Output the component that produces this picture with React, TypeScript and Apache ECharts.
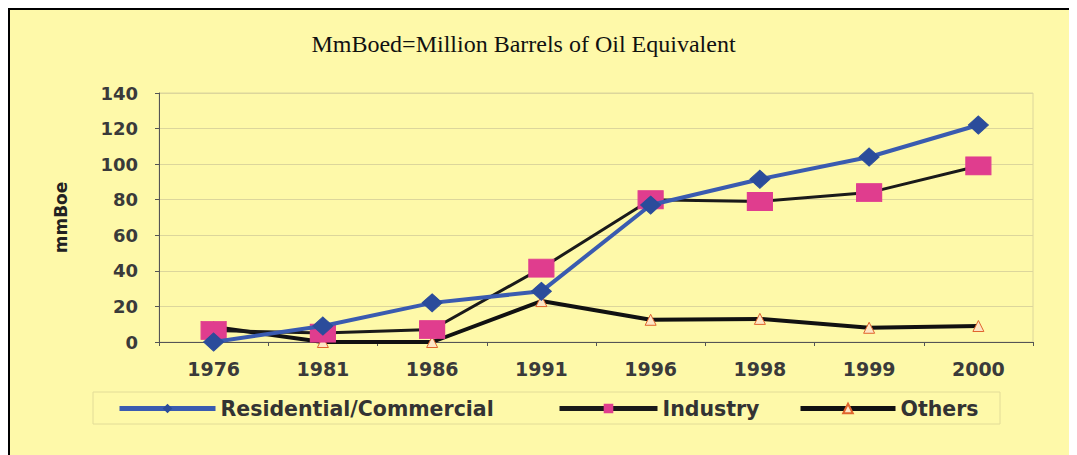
import React, { useEffect, useRef } from "react";
import * as echarts from "echarts";

const years = ["1976", "1981", "1986", "1991", "1996", "1998", "1999", "2000"];
const residential = [0, 9, 22, 28.5, 77, 91.5, 104, 122];
const industry = [6.5, 5, 7, 41.5, 80, 79, 84, 99];
const others = [8.5, 0, 0, 23, 12.5, 13, 8, 9];
const seriesNames = ["Residential/Commercial", "Industry", "Others"];

const W = 1067;
const H = 445;

export default function App() {
  const ref = useRef<HTMLDivElement>(null);
  useEffect(() => {
    if (!ref.current) return;
    const chart = echarts.init(ref.current, undefined, { renderer: "svg" });
    const sans = "'DejaVu Sans', Verdana, sans-serif";
    const legendText = {
      fontFamily: sans,
      fontSize: 20.5,
      fontWeight: "bold",
      color: "#333",
      padding: [6, 0, 0, 0],
    };
    const legendCommon = {
      top: 383,
      itemHeight: 12,
      textStyle: legendText,
      lineStyle: { width: 5 },
    };
    chart.setOption({
      animation: false,
      backgroundColor: "#fef9a9",
      graphic: [
        {
          type: "text",
          x: 513.5,
          y: 34,
          style: {
            text: "MmBoed=Million Barrels of Oil Equivalent",
            fontFamily: "'Liberation Serif', 'Times New Roman', serif",
            fontSize: 24,
            fill: "#111",
            textAlign: "center",
            textVerticalAlign: "middle",
          },
        },
        {
          type: "rect",
          shape: { x: 83, y: 382, width: 907, height: 32 },
          style: { fill: "none", stroke: "#e2dc98", lineWidth: 1 },
          z: 0,
        },
      ],
      grid: {
        left: 149,
        top: 83,
        right: 44,
        bottom: 113,
        show: true,
        borderColor: "#dcd69c",
        borderWidth: 1,
        backgroundColor: "transparent",
      },
      legend: [
        { ...legendCommon, data: [seriesNames[0]], left: 102, itemWidth: 96 },
        { ...legendCommon, data: [seriesNames[1]], left: 542, itemWidth: 98 },
        { ...legendCommon, data: [seriesNames[2]], left: 783, itemWidth: 95 },
      ],
      xAxis: {
        type: "category",
        data: years,
        boundaryGap: true,
        axisLine: { lineStyle: { color: "#555", width: 1 } },
        axisTick: { show: true, lineStyle: { color: "#555" }, length: 4 },
        axisLabel: {
          fontFamily: sans,
          fontSize: 19,
          fontWeight: "bold",
          color: "#3a3a3a",
          margin: 17,
        },
        splitLine: { show: false },
      },
      yAxis: {
        type: "value",
        min: 0,
        max: 140,
        interval: 20,
        name: "mmBoe",
        nameLocation: "middle",
        nameRotate: 90,
        nameGap: 90,
        nameTextStyle: { fontFamily: sans, fontSize: 17, fontWeight: "bold", color: "#222" },
        axisLine: { show: true, lineStyle: { color: "#555", width: 1 } },
        axisTick: { show: true, length: 4, lineStyle: { color: "#555" } },
        axisLabel: {
          fontFamily: sans,
          fontSize: 18,
          fontWeight: "bold",
          color: "#3a3a3a",
          margin: 21,
        },
        splitLine: { show: true, lineStyle: { color: "#dcd69c", width: 1 } },
      },
      series: [
        {
          name: seriesNames[1],
          type: "line",
          data: industry,
          lineStyle: { color: "#1a1a1a", width: 3 },
          itemStyle: { color: "#e03d8e", borderColor: "#e03d8e" },
          symbol: "rect",
          symbolSize: [25, 18],
          z: 3,
        },
        {
          name: seriesNames[2],
          type: "line",
          data: others,
          lineStyle: { color: "#111", width: 4 },
          itemStyle: { color: "#fde6c4", borderColor: "#e0642c", borderWidth: 1 },
          symbol: "triangle",
          symbolSize: 11,
          z: 2,
        },
        {
          name: seriesNames[0],
          type: "line",
          data: residential,
          lineStyle: { color: "#3a5bb0", width: 4 },
          itemStyle: { color: "#2b4c9b", borderColor: "#2b4c9b" },
          symbol: "diamond",
          symbolSize: [20, 18],
          z: 4,
        },
      ],
    });
    return () => chart.dispose();
  }, []);
  return (
    <div
      style={{
        width: W,
        height: H,
        borderTop: "2px solid #000",
        borderLeft: "2px solid #000",
        background: "#fef9a9",
      }}
    >
      <div ref={ref} style={{ width: W, height: H }} />
    </div>
  );
}
